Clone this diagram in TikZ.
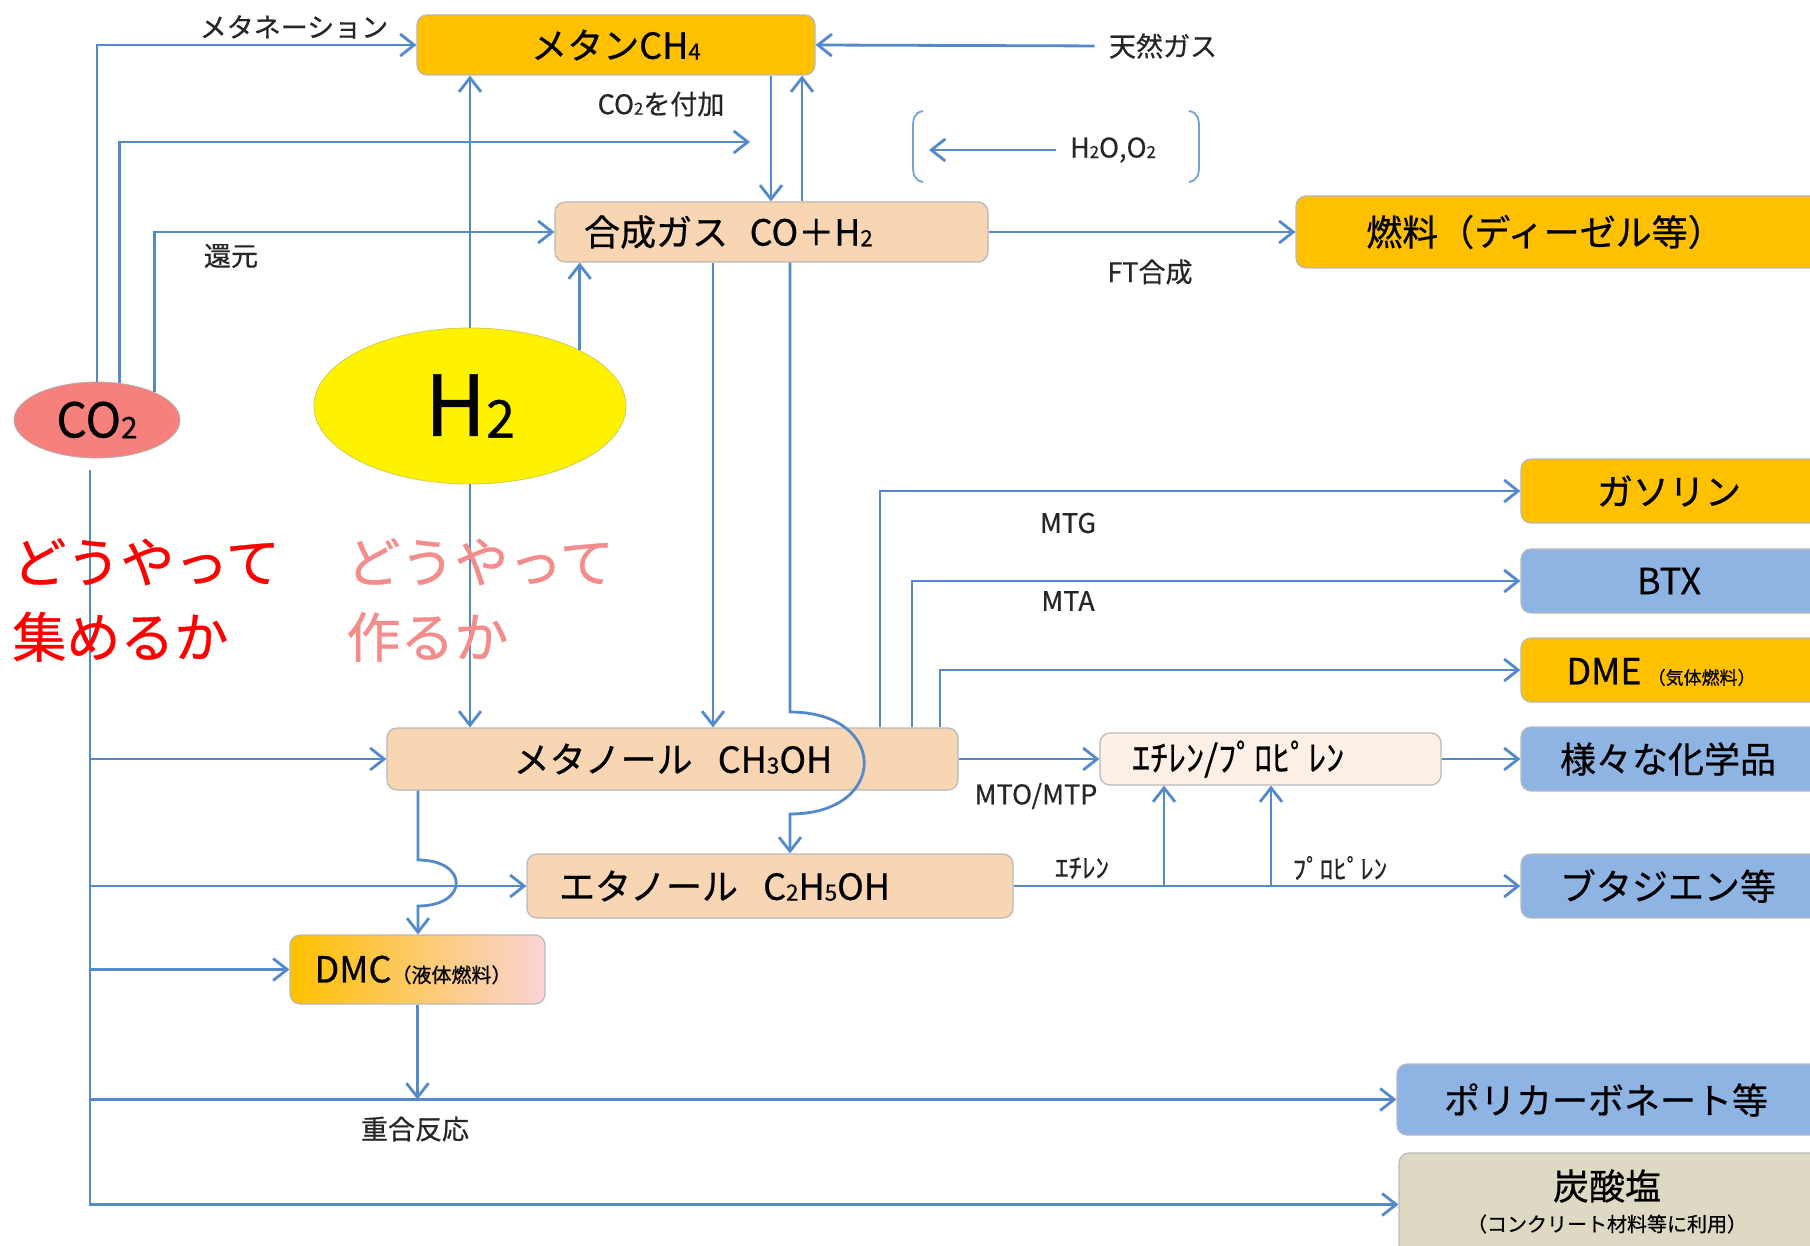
\documentclass[tikz,border=0pt]{standalone}
\usepackage{fontspec}
\setmainfont{Noto Sans CJK JP}[BoldFont={Noto Sans CJK JP}, BoldFeatures={FakeBold=0.6}]
\usetikzlibrary{arrows.meta,fit,shapes.geometric}
\definecolor{lineblue}{RGB}{84,137,204}
\definecolor{cgold}{RGB}{255,192,0}
\definecolor{cpeach}{RGB}{248,213,179}
\definecolor{clblue}{RGB}{142,180,227}
\definecolor{ctan}{RGB}{221,217,195}
\definecolor{cco2}{RGB}{245,128,124}
\definecolor{cpale}{RGB}{253,241,231}
\definecolor{cdmcpink}{RGB}{250,212,214}
\definecolor{cpinktext}{RGB}{245,140,140}
\definecolor{cboxgray}{RGB}{185,185,185}
\newcommand{\sbs}[1]{\raisebox{-0.02em}{\scalebox{0.62}{#1}}}
\newcommand{\bigf}{\fontsize{18}{22}\selectfont\bfseries}
\begin{document}
\begin{tikzpicture}[x=0.5pt,y=-0.5pt,
  box/.style={draw=cboxgray, line width=0.6pt, rounded corners=5pt, inner sep=0pt},
  big/.style={font=\bigf},
  lbl/.style={font=\fontsize{13.5}{16}\selectfont\bfseries, inner sep=1pt, text=black!85},
  conn/.style={draw=lineblue, line width=1.4pt, -{Straight Barb[length=7pt,width=11pt]}},
  question/.style={font=\fontsize{27}{37.5}\selectfont\bfseries, align=left, anchor=west, inner sep=0pt}]
\path[use as bounding box, clip] (0,0) rectangle (1810,1246);
\fill[white] (0,0) rectangle (1810,1246);

% boxes
\node[box, fill=cgold, fit={(417,15) (815,75)}] (ch4) {};
\node[big] (ch4-t) at (616,45) {メタンCH\sbs{4}};
\node[box, fill=cpeach, fit={(555,202) (988,262)}] (syn) {};
\node[big, anchor=west] (syn-t) at (577,232) {合成ガス\hspace{0.6em}CO＋H\sbs{2}};
\node[box, fill=cgold, fit={(1296,196) (1830,268)}] (fuel) {};
\node[big] (fuel-t) at (1545,232) {燃料（ディーゼル等）};

\node[ellipse, draw=gray!60, fill=cco2, minimum width=83pt, minimum height=38pt, inner sep=0pt, font=\fontsize{24}{28}\selectfont\bfseries] (co2) at (97,420) {CO\sbs{2}};
\node[ellipse, draw=yellow!60!gray, fill=yellow, minimum width=156pt, minimum height=78pt, inner sep=0pt, font=\fontsize{42}{48}\selectfont\bfseries] (h2) at (470,406) {H\sbs{2}};

\node[box, fill=cgold, fit={(1521,459) (1830,523)}] (gas) {};
\node[big] (gas-t) at (1669,491) {ガソリン};
\node[box, fill=clblue, fit={(1521,549) (1830,613)}] (btx) {};
\node[big] (btx-t) at (1669,581) {BTX};
\node[box, fill=cgold, fit={(1521,638) (1830,702)}] (dme) {};
\node (dme-t) at (1661,672) {\bigf DME\,\fontsize{9}{11}\selectfont（気体燃料）};
\node[box, fill=clblue, fit={(1521,727) (1830,791)}] (chem) {};
\node[big] (chem-t) at (1668,759) {様々な化学品};
\node[box, fill=clblue, fit={(1521,854) (1830,918)}] (buta) {};
\node[big] (buta-t) at (1668,886) {ブタジエン等};
\node[box, fill=clblue, fit={(1397,1064) (1830,1135)}] (poly) {};
\node[big] (poly-t) at (1606,1100) {ポリカーボネート等};
\node[box, fill=ctan, fit={(1399,1153) (1830,1256)}] (carb) {};
\node[big] (carb-t) at (1607,1186) {炭酸塩};
\node[font=\fontsize{10}{12}\selectfont\bfseries] (carb-t2) at (1607,1224) {（コンクリート材料等に利用）};

\node[box, fill=cpeach, fit={(387,728) (958,790)}] (meoh) {};
\node[big] (meoh-t) at (673,759) {メタノール\hspace{0.7em}CH\sbs{3}OH};
\node[box, fill=cpale, fit={(1100,733) (1441,785)}] (olef) {};
\node[big, anchor=west] (olef-t) at (1125,759) {ｴﾁﾚﾝ/ﾌﾟﾛﾋﾟﾚﾝ};
\node[box, fill=cpeach, fit={(527,854) (1013,918)}] (etoh) {};
\node[big, anchor=west] (etoh-t) at (552,886) {エタノール\hspace{0.7em}C\sbs{2}H\sbs{5}OH};
\node[box, left color=cgold, right color=cdmcpink, fit={(290,935) (545,1004)}] (dmc) {};
\node (dmc-t) at (413,970) {\bigf DMC\fontsize{10}{12}\selectfont（液体燃料）};

% labels
\node[lbl] (l-meth) at (294,27) {メタネーション};
\node[lbl] (l-add) at (661,104) {CO\sbs{2}を付加};
\node[lbl] (l-ng) at (1163,46) {天然ガス};
\node[lbl] (l-h2o) at (1113,150) {H\sbs{2}O,O\sbs{2}};
\node[lbl] (l-red) at (231,256) {還元};
\node[lbl] (l-ft) at (1150,272) {FT合成};
\node[lbl] (l-mtg) at (1068,523) {MTG};
\node[lbl] (l-mta) at (1068,601) {MTA};
\node[lbl] (l-mto) at (1036,796) {MTO/MTP};
\node[lbl] (l-eth) at (1082,868) {ｴﾁﾚﾝ};
\node[lbl] (l-pro) at (1340,868) {ﾌﾟﾛﾋﾟﾚﾝ};
\node[lbl] (l-poly) at (415,1129) {重合反応};

% coordinates
\coordinate (addend) at (750,142);
\coordinate (h2oend) at (929,150);
\coordinate (cT) at (90,0);
\coordinate (cA) at (771,0);
\coordinate (cB) at (802,0);
\coordinate (cC) at (713,0);
\coordinate (cD) at (790,0);
\coordinate (cE) at (418,0);
\coordinate (cF) at (880,0);
\coordinate (cG) at (912,0);
\coordinate (cH) at (940,0);
\coordinate (cI) at (1164,0);
\coordinate (cJ) at (1271,0);
\coordinate (hopA1) at (790,712);
\coordinate (hopA2) at (790,814);
\coordinate (hopB1) at (418,860);
\coordinate (hopB2) at (418,906);

% connectors
\draw[conn] (co2.north) |- (ch4.west);
\draw[conn] (co2.59) |- (addend);
\draw[conn] (co2.26) |- (syn.west);
\draw[conn] (h2.north) -- (h2.north |- ch4.south);
\draw[conn] (h2.27) -- (h2.27 |- syn.south);
\draw[conn] (h2.south) -- (h2.south |- meoh.north);
\draw[conn] (cA |- ch4.south) -- (cA |- syn.north);
\draw[conn] (cB |- syn.north) -- (cB |- ch4.south);
\draw[conn, shorten <=6pt] (l-ng.west) -- (ch4.east);
\draw[conn, shorten <=6pt] (l-h2o.west) -- (h2oend);
\draw[conn] (syn.east) -- (fuel.west);
\draw[conn] (cC |- syn.south) -- (cC |- meoh.north);
\draw[conn] (cD |- syn.south) -- (hopA1) .. controls (889,712) and (889,814) .. (hopA2) -- (cD |- etoh.north);
\draw[conn] (cE |- meoh.south) -- (hopB1) .. controls (469,860) and (469,906) .. (hopB2) -- (cE |- dmc.north);
\draw[conn, shorten <=6pt] (cT |- co2.south) |- (meoh.west);
\draw[conn, shorten <=6pt] (cT |- co2.south) |- (etoh.west);
\draw[conn, shorten <=6pt] (cT |- co2.south) |- (dmc.west);
\draw[conn, shorten <=6pt] (cT |- co2.south) |- (poly.west);
\draw[conn, shorten <=6pt] (cT |- co2.south) |- (carb.west);
\draw[conn] (dmc.south) -- (dmc.south |- poly.west);
\draw[conn] (cF |- meoh.north) |- (gas.west);
\draw[conn] (cG |- meoh.north) |- (btx.west);
\draw[conn] (cH |- meoh.north) |- (dme.west);
\draw[conn] (meoh.east) -- (olef.west);
\draw[conn] (olef.east) -- (chem.west);
\draw[conn] (etoh.east) -- (buta.west);
\draw[conn] (cI |- etoh.east) -- (cI |- olef.south);
\draw[conn] (cJ |- etoh.east) -- (cJ |- olef.south);

% brackets
\draw[lineblue!80, line width=0.9pt] (923,111) .. controls (913,113) and (913,120) .. (913,130) -- (913,163) .. controls (913,173) and (913,180) .. (923,182);
\draw[lineblue!80, line width=0.9pt] (1189,111) .. controls (1199,113) and (1199,120) .. (1199,130) -- (1199,163) .. controls (1199,173) and (1199,180) .. (1189,182);

% questions
\node[question, text=red] (q1) at (12,600) {どうやって\\集めるか};
\node[question, text=cpinktext] (q2) at (346,600) {どうやって\\作るか};
\end{tikzpicture}
\end{document}
